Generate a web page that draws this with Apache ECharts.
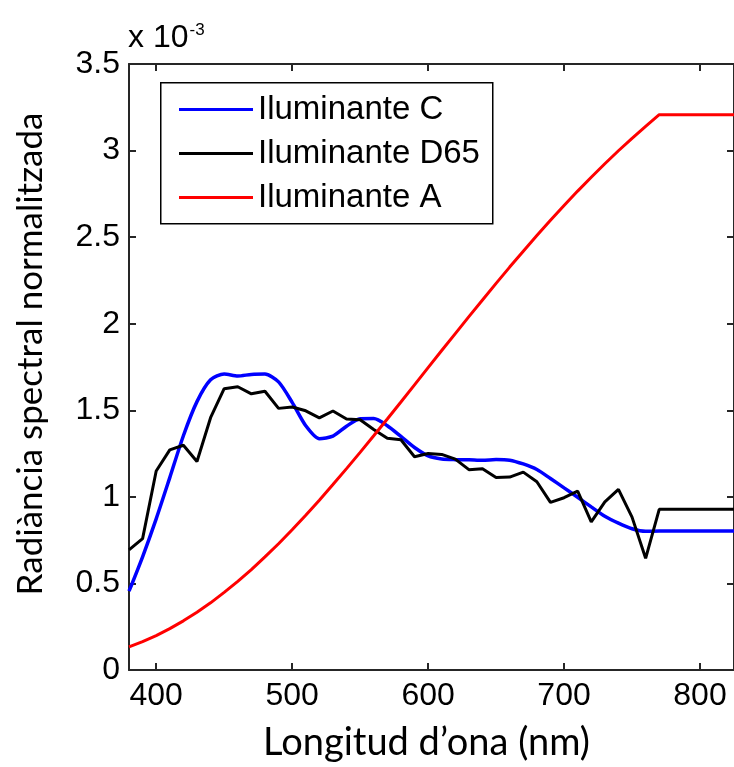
<!DOCTYPE html>
<html>
<head>
<meta charset="utf-8">
<script src="https://cdn.jsdelivr.net/npm/echarts@6/dist/echarts.min.js"></script>
<style>
  html, body { margin: 0; padding: 0; background: #fff; }
  #chart { width: 734px; height: 767px; }
</style>
</head>
<body>
<div id="chart"></div>
<script>
// longituds d'ona (nm), cada 10 nm
var lambda = [380, 390, 400, 410, 420, 430, 440, 450, 460, 470, 480, 490, 500, 510, 520, 530, 540, 550, 560, 570,
    580, 590, 600, 610, 620, 630, 640, 650, 660, 670, 680, 690, 700, 710, 720, 730, 740, 750, 760, 770,
    780, 790, 800, 810, 820, 830];

// valors x 10^-3
var ilumC = [0.455, 0.654, 0.873, 1.111, 1.353, 1.550, 1.676, 1.710, 1.698, 1.707, 1.709, 1.664, 1.546, 1.411, 1.336, 1.351,
    1.408, 1.451, 1.452, 1.411, 1.349, 1.285, 1.237, 1.219, 1.215, 1.214, 1.211, 1.216, 1.212, 1.190, 1.158, 1.106,
    1.052, 0.998, 0.942, 0.888, 0.848, 0.816, 0.801, 0.803, 0.803, 0.803, 0.803, 0.803, 0.803, 0.803];
var ilumD65 = [0.694, 0.759, 1.149, 1.271, 1.298, 1.204, 1.457, 1.625, 1.636, 1.595, 1.610, 1.511, 1.519, 1.497, 1.456, 1.496,
    1.450, 1.445, 1.389, 1.338, 1.330, 1.232, 1.250, 1.245, 1.218, 1.157, 1.163, 1.112, 1.114, 1.143, 1.087, 0.968,
    0.995, 1.033, 0.856, 0.971, 1.043, 0.883, 0.645, 0.928, 0.928, 0.928, 0.928, 0.928, 0.928, 0.928];
var ilumA = [0.133, 0.164, 0.199, 0.239, 0.284, 0.334, 0.388, 0.448, 0.512, 0.580, 0.653, 0.729, 0.810, 0.894, 0.981, 1.071,
    1.163, 1.257, 1.353, 1.450, 1.548, 1.647, 1.746, 1.845, 1.943, 2.041, 2.137, 2.233, 2.327, 2.419, 2.509, 2.597,
    2.683, 2.766, 2.846, 2.924, 2.999, 3.071, 3.140, 3.207, 3.207, 3.207, 3.207, 3.207, 3.207, 3.207];

var xTicks = [400, 500, 600, 700, 800];
var nomsSeries = ['Iluminante C', 'Iluminante D65', 'Iluminante A'];
var colors = ['#0000ff', '#000000', '#ff0000'];

function parells(ys) {
    var out = [];
    for (var i = 0; i < lambda.length; i++) {
        out.push([lambda[i], ys[i]]);
    }
    return out;
}

var eixColor = '#262626';
var chart = echarts.init(document.getElementById('chart'));

var option = {
    animation: false,
    color: colors,
    grid: {left: 129, right: -3, top: 64, bottom: 95},
    legend: {
        data: nomsSeries,
        orient: 'vertical',
        left: 174,
        top: 88,
        z: 10,
        itemWidth: 74,
        itemHeight: 3,
        itemGap: 11,
        icon: 'rect',
        textStyle: {fontFamily: 'Liberation Sans', fontSize: 33, color: '#000', lineHeight: 33}
    },
    xAxis: [
        {
            type: 'value', min: 380, max: 825,
            name: 'Longitud d\u2019ona (nm)', nameLocation: 'middle', nameGap: 54,
            nameTextStyle: {fontFamily: 'Lato', fontSize: 38, color: '#000', padding: [0, 10, 0, 0]},
            axisLine: {onZero: false, lineStyle: {color: eixColor, width: 2}},
            axisTick: {inside: true, length: 7, customValues: xTicks, lineStyle: {color: eixColor, width: 2}},
            axisLabel: {customValues: xTicks, margin: 10, fontFamily: 'Liberation Sans', fontSize: 32, color: '#000'},
            splitLine: {show: false}
        },
        {
            type: 'value', min: 380, max: 825, position: 'top',
            axisLine: {onZero: false, lineStyle: {color: eixColor, width: 2}},
            axisTick: {inside: true, length: 7, customValues: xTicks, lineStyle: {color: eixColor, width: 2}},
            axisLabel: {show: false},
            splitLine: {show: false}
        }
    ],
    yAxis: [
        {
            type: 'value', min: 0, max: 3.5, interval: 0.5,
            axisLine: {show: true, onZero: false, lineStyle: {color: eixColor, width: 2}},
            axisTick: {show: true, inside: true, length: 7, lineStyle: {color: eixColor, width: 2}},
            axisLabel: {margin: 9, fontFamily: 'Liberation Sans', fontSize: 32, color: '#000'},
            splitLine: {show: false}
        },
        {
            type: 'value', min: 0, max: 3.5, interval: 0.5, position: 'right',
            axisLine: {show: true, onZero: false, lineStyle: {color: eixColor, width: 2}},
            axisTick: {show: true, inside: true, length: 7, lineStyle: {color: eixColor, width: 2}},
            axisLabel: {show: false},
            splitLine: {show: false}
        }
    ],
    graphic: [
        {
            type: 'rect', left: 160, top: 82, z: 3,
            shape: {width: 332, height: 141},
            style: {fill: '#fff', stroke: '#000', lineWidth: 1.5}
        },
        {
            type: 'text', left: 128, top: 22,
            style: {
                text: '{a|x 10}{b|-3}',
                rich: {
                    a: {fontFamily: 'Liberation Sans', fontSize: 32, color: '#000', verticalAlign: 'bottom'},
                    b: {fontFamily: 'Liberation Sans', fontSize: 17, color: '#000', verticalAlign: 'top', padding: [0, 0, 14, 1]}
                }
            }
        },
        {
            // títol de l'eix Y
            type: 'text', x: 31, y: 354, rotation: Math.PI / 2,
            style: {
                text: 'Radi\u00e0ncia spectral normalitzada',
                fontFamily: 'Lato', fontSize: 35, fill: '#000',
                align: 'center', verticalAlign: 'middle'
            }
        }
    ],
    series: [
        {name: nomsSeries[0], type: 'line', data: parells(ilumC), showSymbol: false, smooth: 0.25, lineStyle: {width: 3.5}},
        {name: nomsSeries[1], type: 'line', data: parells(ilumD65), showSymbol: false, lineStyle: {width: 3}},
        {name: nomsSeries[2], type: 'line', data: parells(ilumA), showSymbol: false, lineStyle: {width: 3}}
    ]
};

chart.setOption(option);
</script>
</body>
</html>
